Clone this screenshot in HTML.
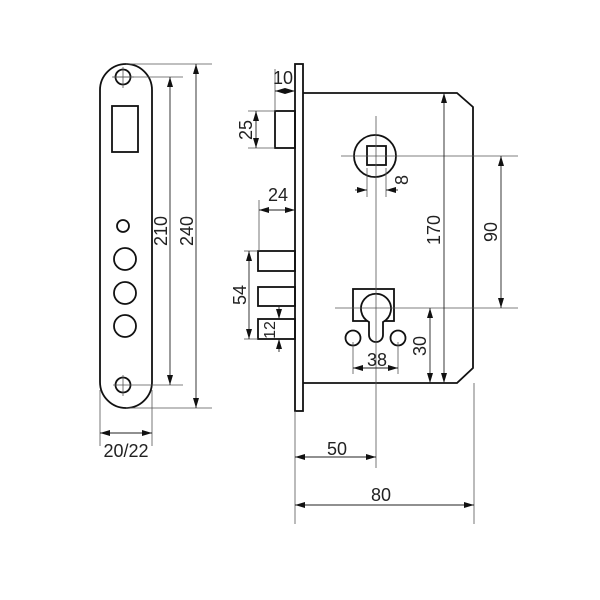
<!DOCTYPE html>
<html><head><style>
html,body{margin:0;padding:0;background:#fff}
svg{display:block}
text{font-family:"Liberation Sans",sans-serif;font-size:18px;fill:#222}
</style></head><body>
<svg width="600" height="600" viewBox="0 0 600 600" xmlns="http://www.w3.org/2000/svg">
<defs>
<marker id="a" viewBox="0 0 10 6" refX="10" refY="3" markerWidth="10" markerHeight="6" markerUnits="userSpaceOnUse" orient="auto-start-reverse">
<path d="M0,0 L10,3 L0,6 z" fill="#111"/></marker>
</defs>
<g fill="none" stroke="#111" stroke-width="1.8">
<!-- faceplate -->
<rect x="100" y="64" width="52" height="344" rx="26" ry="26"/>
<circle cx="123" cy="77" r="7.5"/>
<circle cx="123" cy="385" r="7.5"/>
<rect x="112" y="106" width="26" height="46"/>
<circle cx="123" cy="226" r="6"/>
<circle cx="125" cy="259" r="11"/>
<circle cx="125" cy="293" r="11"/>
<circle cx="125" cy="326" r="11"/>
<!-- lock front plate -->
<rect x="295" y="64" width="8" height="347"/>
<path d="M303,93 H457 L473,107 V368 L457,383 H303"/>
<rect x="275" y="111" width="20" height="37"/>
<rect x="258" y="251" width="37" height="20"/>
<rect x="258" y="287" width="37" height="19"/>
<rect x="258" y="319" width="37" height="20"/>
<circle cx="375" cy="156" r="21"/>
<rect x="367" y="146" width="19" height="19"/>
<rect x="353" y="289" width="41" height="32"/>
<path d="M369,335 V322 A15,15 0 1 1 383,322 V335 A7,7 0 0 1 369,335 Z" fill="#fff"/>
<circle cx="353" cy="338" r="7.5"/>
<circle cx="398" cy="338" r="7.5"/>
</g>
<g fill="none" stroke="#555" stroke-width="0.8">
<!-- faceplate dims -->
<line x1="113" y1="77" x2="183" y2="77"/>
<line x1="113" y1="385" x2="183" y2="385"/>
<line x1="126" y1="64" x2="212" y2="64"/>
<line x1="126" y1="408" x2="212" y2="408"/>
<line x1="123" y1="67" x2="123" y2="88"/><line x1="112" y1="77" x2="134" y2="77"/>
<line x1="123" y1="375" x2="123" y2="396"/>
<line x1="100" y1="390" x2="100" y2="446"/>
<line x1="152" y1="390" x2="152" y2="446"/>
<!-- lock dims ext -->
<line x1="275" y1="69" x2="275" y2="111"/>
<line x1="248" y1="111" x2="275" y2="111"/>
<line x1="248" y1="148" x2="275" y2="148"/>
<line x1="259" y1="200" x2="259" y2="251"/>
<line x1="244" y1="251" x2="258" y2="251"/>
<line x1="244" y1="339" x2="258" y2="339"/>
<line x1="341" y1="156" x2="518" y2="156"/>
<line x1="376" y1="116" x2="376" y2="468"/>
<line x1="335" y1="308" x2="518" y2="308"/>
<line x1="367" y1="168" x2="367" y2="197"/>
<line x1="386" y1="168" x2="386" y2="197"/>
<line x1="353" y1="342" x2="353" y2="374"/>
<line x1="398" y1="342" x2="398" y2="374"/>
<line x1="295" y1="411" x2="295" y2="524"/>
<line x1="474" y1="383" x2="474" y2="524"/>
</g>
<g stroke="#222" stroke-width="0.9" fill="none">
<line x1="170" y1="77" x2="170" y2="385" marker-start="url(#a)" marker-end="url(#a)"/>
<line x1="196" y1="64" x2="196" y2="408" marker-start="url(#a)" marker-end="url(#a)"/>
<line x1="100" y1="433" x2="152" y2="433" marker-start="url(#a)" marker-end="url(#a)"/>
<line x1="275" y1="91" x2="295" y2="91" marker-start="url(#a)" marker-end="url(#a)"/>
<line x1="256" y1="111" x2="256" y2="148" marker-start="url(#a)" marker-end="url(#a)"/>
<line x1="259" y1="210" x2="295" y2="210" marker-start="url(#a)" marker-end="url(#a)"/>
<line x1="249" y1="251" x2="249" y2="339" marker-start="url(#a)" marker-end="url(#a)"/>
<line x1="279" y1="306" x2="279" y2="319" marker-end="url(#a)"/>
<line x1="279" y1="352" x2="279" y2="339" marker-end="url(#a)"/>
<line x1="355" y1="190" x2="367" y2="190" marker-end="url(#a)"/>
<line x1="398" y1="190" x2="386" y2="190" marker-end="url(#a)"/>
<line x1="444" y1="93" x2="444" y2="383" marker-start="url(#a)" marker-end="url(#a)"/>
<line x1="501" y1="156" x2="501" y2="308" marker-start="url(#a)" marker-end="url(#a)"/>
<line x1="430" y1="308" x2="430" y2="383" marker-start="url(#a)" marker-end="url(#a)"/>
<line x1="353" y1="368" x2="398" y2="368" marker-start="url(#a)" marker-end="url(#a)"/>
<line x1="295" y1="457" x2="376" y2="457" marker-start="url(#a)" marker-end="url(#a)"/>
<line x1="295" y1="505" x2="474" y2="505" marker-start="url(#a)" marker-end="url(#a)"/>
</g>
<text x="0" y="0" transform="translate(170,231) rotate(-90)" text-anchor="middle" dy="-3">210</text>
<text x="0" y="0" transform="translate(196,231) rotate(-90)" text-anchor="middle" dy="-3">240</text>
<text x="126" y="457" text-anchor="middle">20/22</text>
<text x="283" y="84" text-anchor="middle">10</text>
<text transform="translate(252,130) rotate(-90)" text-anchor="middle">25</text>
<text x="278" y="201" text-anchor="middle">24</text>
<text transform="translate(246,295) rotate(-90)" text-anchor="middle">54</text>
<text transform="translate(275,330) rotate(-90)" text-anchor="middle" style="font-size:16px">12</text>
<text transform="translate(408,180) rotate(-90)" text-anchor="middle">8</text>
<text transform="translate(440,230) rotate(-90)" text-anchor="middle">170</text>
<text transform="translate(497,232) rotate(-90)" text-anchor="middle">90</text>
<text transform="translate(426,346) rotate(-90)" text-anchor="middle">30</text>
<text x="377" y="366" text-anchor="middle">38</text>
<text x="337" y="455" text-anchor="middle">50</text>
<text x="381" y="501" text-anchor="middle">80</text>
</svg>
</body></html>
